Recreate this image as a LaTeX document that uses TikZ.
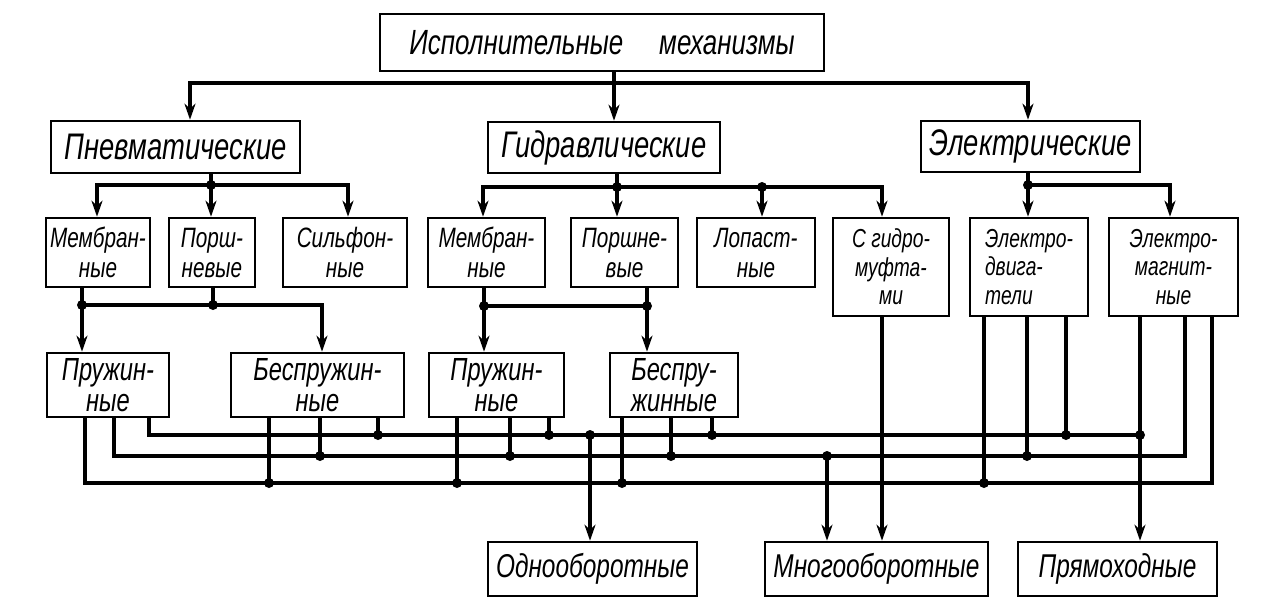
\documentclass[tikz,border=0pt]{standalone}
\usepackage{fontspec}
\setmainfont{Liberation Sans}[FakeStretch=0.74]
\usetikzlibrary{arrows.meta,calc}
\tikzset{
  box/.style={draw, line width=2.6pt, inner sep=0pt, align=center},
  Ltop/.style={box, font=\fontsize{35}{38}\selectfont\itshape},
  Ltwo/.style={box, font=\fontsize{37}{40}\selectfont\itshape},
  Lthree/.style={box, minimum height=69pt, font=\fontsize{28}{30}\selectfont\itshape},
  Lthreeb/.style={box, minimum height=98pt, font=\fontsize{26}{28.5}\selectfont\itshape},
  Lfour/.style={box, minimum height=64pt, font=\fontsize{32}{31}\selectfont\itshape},
  Lbot/.style={box, minimum height=54pt, font=\fontsize{33}{36}\selectfont\itshape},
  ln/.style={line width=3.4pt},
  arr/.style={ln, -{Stealth[length=16pt,width=11pt,inset=5pt]}},
  dot/.style={circle, fill, inner sep=0pt, minimum size=10pt},
}
\begin{document}
\begin{tikzpicture}[x=1pt,y=-1pt]
\useasboundingbox (0,0) rectangle (1262,598);
% level 1, 2
\node[Ltop, minimum width=444pt, minimum height=57pt] (top) at (602,42.5) {Исполнительные\hspace{36pt}механизмы};
\node[Ltwo, minimum width=249pt, minimum height=52pt] (pn) at (175.5,147) {Пневматические};
\node[Ltwo, minimum width=232pt, minimum height=51pt] (gd) at (604,147.5) {Гидравлические};
\node[Ltwo, minimum width=219pt, minimum height=51pt] (el) at (1030.5,146.5) {Электрические};
% level 3
\node[Lthree, minimum width=104pt] (pm) at (98,252.5) {Мембран-\\ные};
\node[Lthree, minimum width=86pt] (pp) at (212,252.5) {Порш-\\невые};
\node[Lthree, minimum width=124pt] (ps) at (345,252.5) {Сильфон-\\ные};
\node[Lthree, minimum width=117pt] (hm) at (486.5,252.5) {Мембран-\\ные};
\node[Lthree, minimum width=107pt] (hp) at (624.5,252.5) {Поршне-\\вые};
\node[Lthree, minimum width=118pt] (hl) at (756,252.5) {Лопаст-\\ные};
\node[Lthreeb, minimum width=116pt] (hg) at (891,267) {С гидро-\\муфта-\\ми};
\node[Lthreeb, minimum width=118pt, align=left] (ed) at (1029,267) {Электро-\\двига-\\тели};
\node[Lthreeb, minimum width=129pt] (em) at (1173.5,267) {Электро-\\магнит-\\ные};
% level 4
\node[Lfour, minimum width=122pt] (pspr) at (108,385) {Пружин-\\ные};
\node[Lfour, minimum width=173pt] (pbes) at (317.5,385) {Беспружин-\\ные};
\node[Lfour, minimum width=135pt] (hspr) at (496.5,385) {Пружин-\\ные};
\node[Lfour, minimum width=128pt] (hbes) at (674,385) {Беспру-\\жинные};
% bottom
\node[Lbot, minimum width=209pt] (one) at (592.5,569) {Однооборотные};
\node[Lbot, minimum width=223pt] (many) at (876.5,569) {Многооборотные};
\node[Lbot, minimum width=199pt] (pr) at (1117.5,569) {Прямоходные};

% top tree
\coordinate (t1) at (190,83); \coordinate (t2) at (614,83); \coordinate (t3) at (1028,83);
\draw[ln] (top.south -| t2) -- (t2);
\draw[arr] (t2) -- (t2 |- gd.north);
\draw[arr] (t2) -| (t1 |- pn.north);
\draw[arr] (t2) -| (t3 |- el.north);
% pneumatic
\coordinate (p0) at (211,185); \coordinate (pa) at (97,185); \coordinate (pc) at (348,185);
\draw[ln] (pn.south -| p0) -- (p0);
\draw[arr] (p0) -- (p0 |- pp.north);
\draw[arr] (p0) -| (pa |- pm.north);
\draw[arr] (p0) -| (pc |- ps.north);
\node[dot] at (p0) {};
% hydraulic
\coordinate (h0) at (617,187); \coordinate (ha) at (483,187);
\coordinate (hc) at (762,187); \coordinate (hd) at (882,187);
\draw[ln] (gd.south -| h0) -- (h0);
\draw[arr] (h0) -- (h0 |- hp.north);
\draw[arr] (h0) -| (ha |- hm.north);
\draw[arr] (h0) -| (hd |- hg.north);
\draw[arr] (hc) -- (hc |- hl.north);
\node[dot] at (h0) {}; \node[dot] at (hc) {};
% electric
\coordinate (e0) at (1028,185); \coordinate (eb) at (1170,185);
\draw[ln] (el.south -| e0) -- (e0);
\draw[arr] (e0) -- (e0 |- ed.north);
\draw[arr] (e0) -| (eb |- em.north);
\node[dot] at (e0) {};
% pneumatic lower
\coordinate (q1) at (82,305); \coordinate (q2) at (213,305); \coordinate (q3) at (322,305);
\draw[ln] (pm.south -| q1) -- (q1);
\draw[ln] (pp.south -| q2) -- (q2);
\draw[arr] (q1) -- (q1 |- pspr.north);
\draw[arr] (q1) -| (q3 |- pbes.north);
\node[dot] at (q1) {}; \node[dot] at (q2) {};
% hydraulic lower
\coordinate (r1) at (484,306); \coordinate (r2) at (647,306);
\draw[ln] (hm.south -| r1) -- (r1);
\draw[ln] (hp.south -| r2) -- (r2);
\draw[arr] (r1) -- (r1 |- hspr.north);
\draw[arr] (r1) -- (r2) -- (r2 |- hbes.north);
\node[dot] at (r1) {}; \node[dot] at (r2) {};

% buses
\coordinate (B1) at (0,435); \coordinate (B2) at (0,456); \coordinate (B3) at (0,483);
\coordinate (xa3) at (85,0);  \coordinate (xa2) at (114,0);  \coordinate (xa1) at (149,0);
\coordinate (xb3) at (269,0); \coordinate (xb2) at (320,0);  \coordinate (xb1) at (378,0);
\coordinate (xc3) at (457,0); \coordinate (xc2) at (510,0);  \coordinate (xc1) at (549,0);
\coordinate (xd3) at (622,0); \coordinate (xd2) at (671,0);  \coordinate (xd1) at (712,0);
\coordinate (xe3) at (984,0); \coordinate (xe2) at (1027,0); \coordinate (xe1) at (1066,0);
\coordinate (xf1) at (1140,0); \coordinate (xf2) at (1185,0); \coordinate (xf3) at (1212,0);
\coordinate (xo) at (590,0); \coordinate (xm1) at (827,0); \coordinate (xm2) at (882,0);

\draw[ln] (xa1 |- pspr.south) |- (xf1 |- B1);
\draw[ln] (xa2 |- pspr.south) |- (xf2 |- B2) -- (xf2 |- em.south);
\draw[ln] (xa3 |- pspr.south) |- (xf3 |- B3) -- (xf3 |- em.south);

\foreach \b/\n in {xb/pbes, xc/hspr, xd/hbes} {
  \draw[ln] (\b1 |- \n.south) -- (\b1 |- B1) node[dot]{};
  \draw[ln] (\b2 |- \n.south) -- (\b2 |- B2) node[dot]{};
  \draw[ln] (\b3 |- \n.south) -- (\b3 |- B3) node[dot]{};
}
\draw[ln] (xe1 |- ed.south) -- (xe1 |- B1) node[dot]{};
\draw[ln] (xe2 |- ed.south) -- (xe2 |- B2) node[dot]{};
\draw[ln] (xe3 |- ed.south) -- (xe3 |- B3) node[dot]{};

% drops
\draw[arr] (xf1 |- em.south) -- (xf1 |- pr.north);
\node[dot] at (xf1 |- B1) {};
\draw[arr] (xo |- B1) -- (xo |- one.north);
\node[dot] at (xo |- B1) {};
\draw[arr] (xm1 |- B2) -- (xm1 |- many.north);
\node[dot] at (xm1 |- B2) {};
\draw[arr] (xm2 |- hg.south) -- (xm2 |- many.north);
\end{tikzpicture}
\end{document}
